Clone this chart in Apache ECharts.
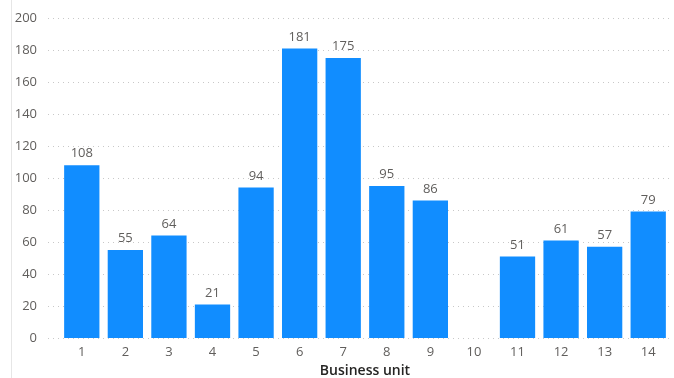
<!DOCTYPE html>
<html><head><meta charset="utf-8">
<script src="https://cdn.jsdelivr.net/npm/echarts@6/dist/echarts.min.js"></script>
<style>html,body{margin:0;padding:0;background:#fff}#c{width:674px;height:378px}</style>
</head><body><div id="c"></div>
<script>
const categories = ['1','2','3','4','5','6','7','8','9','10','11','12','13','14'];
const values = [108,55,64,21,94,181,175,95,86,null,51,61,57,79];
const yTicks = {min:0, max:200, interval:20};
const xTitle = 'Business unit';

const chart = echarts.init(document.getElementById('c'));
const font = '"Open Sans", "Noto Sans", sans-serif';
chart.setOption({
  animation:false,
  graphic:[{type:'line', shape:{x1:11.5,y1:0,x2:11.5,y2:378}, style:{stroke:'#e6e6e6', lineWidth:1}}],
  grid:[
    {left:60, right:4, top:18, bottom:40, containLabel:false, outerBoundsMode:'none'},
    {left:48, right:4, top:18, bottom:40, containLabel:false, outerBoundsMode:'none'}
  ],
  xAxis:[
    {type:'category', gridIndex:0, data:categories,
     axisLine:{show:false}, axisTick:{show:false},
     axisLabel:{color:'#605e5c', fontSize:13, fontFamily:font, margin:8},
     name:xTitle, nameLocation:'middle', nameGap:26,
     nameTextStyle:{color:'#252423', fontSize:14, fontWeight:600, fontFamily:font}},
    {type:'category', gridIndex:1, data:categories, show:false}
  ],
  yAxis:[
    {type:'value', gridIndex:0, min:yTicks.min, max:yTicks.max, interval:yTicks.interval,
     axisLine:{show:false}, axisTick:{show:false}, splitLine:{show:false},
     axisLabel:{color:'#605e5c', fontSize:13, fontFamily:font, margin:23}},
    {type:'value', gridIndex:1, min:yTicks.min, max:yTicks.max, interval:yTicks.interval,
     axisLine:{show:false}, axisTick:{show:false}, axisLabel:{show:false},
     splitLine:{show:true, lineStyle:{color:'#c8c8c8', width:1, type:[1,4]}}}
  ],
  series:[{
    type:'bar', xAxisIndex:0, yAxisIndex:0, data:values,
    barCategoryGap:'19%',
    itemStyle:{color:'#118DFF'},
    label:{show:true, position:'top', color:'#605e5c', fontSize:13, fontFamily:font, distance:5}
  }]
});
</script></body></html>
